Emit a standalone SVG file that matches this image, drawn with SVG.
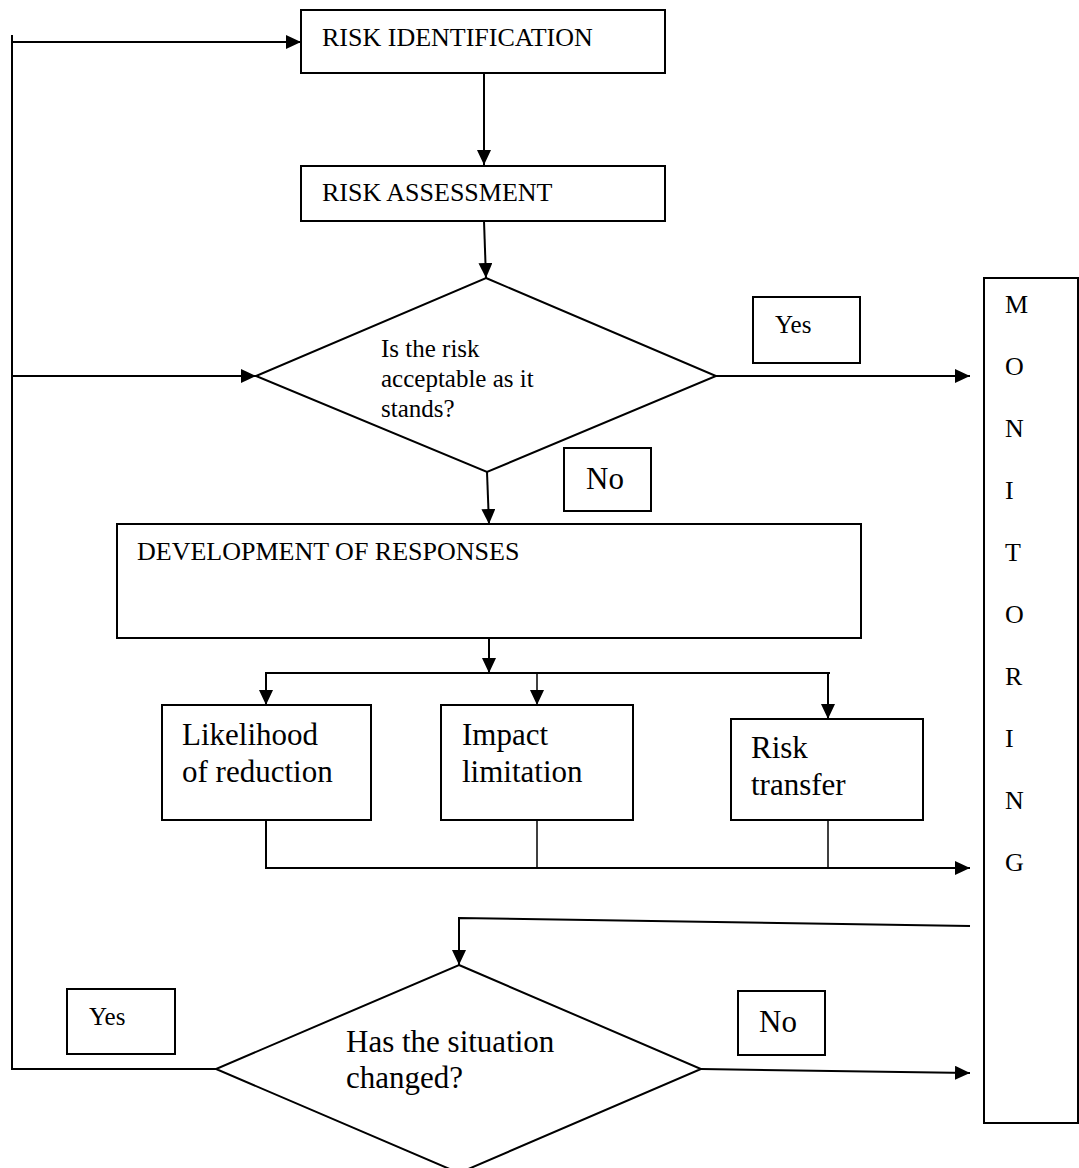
<svg xmlns="http://www.w3.org/2000/svg" width="1079" height="1168" viewBox="0 0 1079 1168">
  <style>
    .box { fill: #fff; stroke: #000; stroke-width: 2; }
    .line { fill: none; stroke: #000; stroke-width: 2; }
    .thin { fill: none; stroke: #000; stroke-width: 1.5; }
    text { font-family: "Liberation Serif", "Times New Roman", serif; fill: #000; }
    .caps { font-size: 26px; }
    .q { font-size: 25px; }
    .big { font-size: 31px; }
    .mon { font-size: 26px; }
  </style>
  <defs>
    <marker id="arrow" markerUnits="userSpaceOnUse" markerWidth="15" markerHeight="14" refX="15" refY="7" orient="auto">
      <path d="M0,0 L15,7 L0,14 z" fill="#000"/>
    </marker>
  </defs>

  <!-- connectors -->
  <g id="connectors">
    <!-- feedback loop on the left -->
    <polyline class="line" points="216,1069 12,1069 12,35"/>
    <line class="line" x1="12" y1="42" x2="301" y2="42" marker-end="url(#arrow)"/>
    <line class="line" x1="12" y1="376" x2="256" y2="376" marker-end="url(#arrow)"/>
    <!-- main flow -->
    <line class="line" x1="484" y1="73" x2="484" y2="165" marker-end="url(#arrow)"/>
    <line class="line" x1="484" y1="221" x2="486" y2="278" marker-end="url(#arrow)"/>
    <line class="line" x1="716" y1="376" x2="970" y2="376" marker-end="url(#arrow)"/>
    <line class="line" x1="487" y1="472" x2="489" y2="524" marker-end="url(#arrow)"/>
    <!-- branches to responses -->
    <line class="line" x1="489" y1="638" x2="489" y2="673" marker-end="url(#arrow)"/>
    <line class="line" x1="266" y1="673" x2="830" y2="673"/>
    <line class="line" x1="266" y1="672" x2="266" y2="705" marker-end="url(#arrow)"/>
    <line class="thin" x1="537" y1="672" x2="537" y2="705" marker-end="url(#arrow)"/>
    <line class="line" x1="828" y1="672" x2="828" y2="719" marker-end="url(#arrow)"/>
    <!-- responses to monitoring -->
    <polyline class="line" points="266,820 266,868 970,868" marker-end="url(#arrow)"/>
    <line class="thin" x1="537" y1="820" x2="537" y2="868"/>
    <line class="thin" x1="828" y1="820" x2="828" y2="868"/>
    <!-- monitoring back to the review decision -->
    <polyline class="line" points="970,926 459,918 459,965" marker-end="url(#arrow)"/>
    <line class="line" x1="701" y1="1069" x2="970" y2="1073" marker-end="url(#arrow)"/>
  </g>

  <g id="risk-identification">
    <rect class="box" x="301" y="10" width="364" height="63"/>
    <text class="caps" x="322" y="46">RISK IDENTIFICATION</text>
  </g>

  <g id="risk-assessment">
    <rect class="box" x="301" y="166" width="364" height="55"/>
    <text class="caps" x="322" y="201">RISK ASSESSMENT</text>
  </g>

  <g id="acceptable-decision">
    <polygon class="box" points="486,278 716,376 487,472 256,376"/>
    <text class="q" x="381" y="357">Is the risk</text>
    <text class="q" x="381" y="387">acceptable as it</text>
    <text class="q" x="381" y="417">stands?</text>
  </g>

  <g id="label-yes-1">
    <rect class="box" x="753" y="297" width="107" height="66"/>
    <text class="q" x="775" y="333">Yes</text>
  </g>

  <g id="label-no-1">
    <rect class="box" x="564" y="448" width="87" height="63"/>
    <text class="big" x="586" y="489">No</text>
  </g>

  <g id="development-of-responses">
    <rect class="box" x="117" y="524" width="744" height="114"/>
    <text class="caps" x="137" y="560">DEVELOPMENT OF RESPONSES</text>
  </g>

  <g id="likelihood-reduction">
    <rect class="box" x="162" y="705" width="209" height="115"/>
    <text class="big" x="182" y="745">Likelihood</text>
    <text class="big" x="182" y="782">of reduction</text>
  </g>

  <g id="impact-limitation">
    <rect class="box" x="441" y="705" width="192" height="115"/>
    <text class="big" x="462" y="745">Impact</text>
    <text class="big" x="462" y="782">limitation</text>
  </g>

  <g id="risk-transfer">
    <rect class="box" x="731" y="719" width="192" height="101"/>
    <text class="big" x="751" y="758">Risk</text>
    <text class="big" x="751" y="795">transfer</text>
  </g>

  <g id="monitoring">
    <rect class="box" x="984" y="278" width="94" height="845"/>
    <text class="mon" x="1005" y="313">M</text>
    <text class="mon" x="1005" y="375">O</text>
    <text class="mon" x="1005" y="437">N</text>
    <text class="mon" x="1005" y="499">I</text>
    <text class="mon" x="1005" y="561">T</text>
    <text class="mon" x="1005" y="623">O</text>
    <text class="mon" x="1005" y="685">R</text>
    <text class="mon" x="1005" y="747">I</text>
    <text class="mon" x="1005" y="809">N</text>
    <text class="mon" x="1005" y="871">G</text>
  </g>

  <g id="situation-decision">
    <polygon class="box" points="459,965 701,1069 459,1173 216,1069"/>
    <text class="big" x="346" y="1052">Has the situation</text>
    <text class="big" x="346" y="1088">changed?</text>
  </g>

  <g id="label-yes-2">
    <rect class="box" x="67" y="989" width="108" height="65"/>
    <text class="q" x="89" y="1025">Yes</text>
  </g>

  <g id="label-no-2">
    <rect class="box" x="738" y="991" width="87" height="64"/>
    <text class="big" x="759" y="1032">No</text>
  </g>
</svg>
